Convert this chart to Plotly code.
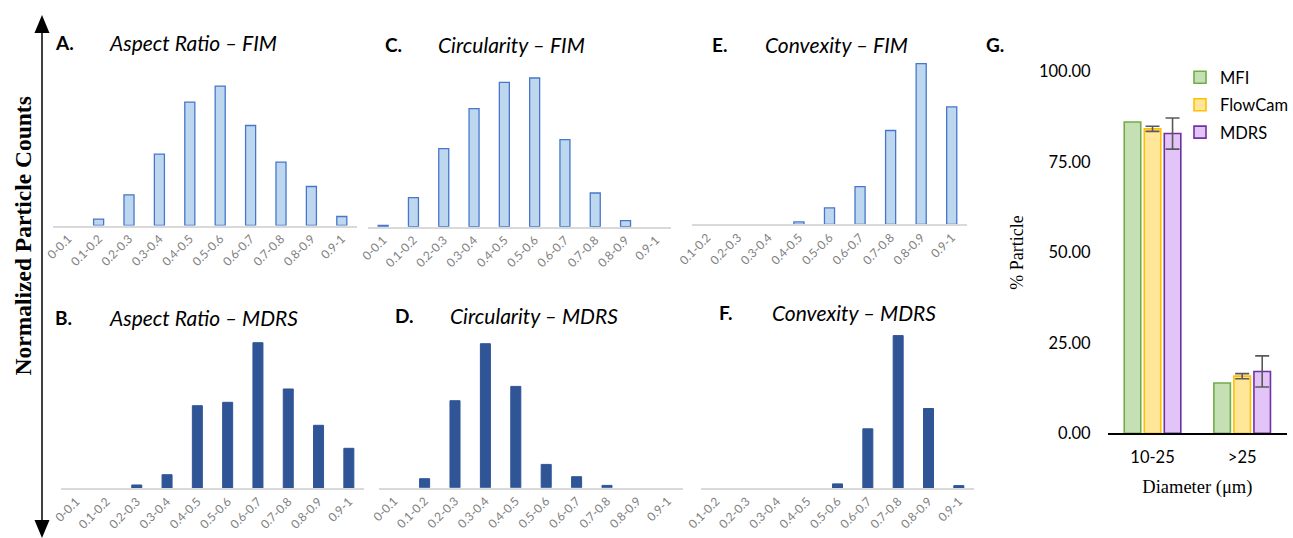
import plotly.graph_objects as go

W, H = 1293, 538

# ---------------- data ----------------
bins10 = ["0-0.1", "0.1-0.2", "0.2-0.3", "0.3-0.4", "0.4-0.5",
          "0.5-0.6", "0.6-0.7", "0.7-0.8", "0.8-0.9", "0.9-1"]
bins9 = ["0.1-0.2", "0.2-0.3", "0.3-0.4", "0.4-0.5",
         "0.5-0.6", "0.6-0.7", "0.7-0.8", "0.8-0.9", "0.9-1"]

# normalized particle counts (arbitrary units, common scale)
aspect_fim = [0, 6.4, 30.7, 71.4, 123.4, 139.4, 100.0, 63.4, 39.0, 9.0]
aspect_mdrs = [0, 0, 3.3, 13.6, 82.6, 86.0, 145.6, 99.3, 63.0, 40.0]
circ_fim = [1.3, 29.0, 78.0, 118.0, 144.3, 148.7, 87.0, 33.7, 6.0, 0]
circ_mdrs = [0, 9.0, 87.0, 144.0, 101.3, 23.3, 11.0, 2.3, 0, 0]
conv_fim = [0, 0, 0, 2.4, 16.4, 37.7, 93.8, 160.6, 117.5]
conv_mdrs = [0, 0, 0, 0, 4.1, 59.2, 152.4, 79.5, 2.4]

sizes = ["10-25", ">25"]
mfi = [86.1, 13.9]
flowcam = [84.2, 15.8]
flowcam_err = [0.7, 0.7]
mdrs = [82.9, 17.1]
mdrs_err = [4.3, 4.3]
g_ticks = [0, 25, 50, 75, 100]

# ---------------- styling helpers ----------------
def X(px):
    return px / W

def Y(py):
    return 1 - py / H

SANS = "Lato"
SERIF = "Liberation Serif"
LIGHT = ("#BDD7EE", "#4776CC", 1.3)
DARK = ("#2F5597", "#2F5597", 1.0)

panels = [
    # (letter, title, cats, values, style, x0, x1, baseline, letter_xy, title_x)
    ("A.", "Aspect Ratio – FIM", bins10, aspect_fim, LIGHT, 53, 357, 225.5, (53, 43), 107),
    ("B.", "Aspect Ratio – MDRS", bins10, aspect_mdrs, DARK, 61, 364, 488.3, (53, 317), 107),
    ("C.", "Circularity – FIM", bins10, circ_fim, LIGHT, 368, 671, 226.7, (383, 45), 436),
    ("D.", "Circularity – MDRS", bins10, circ_mdrs, DARK, 379, 683, 487.7, (393, 315), 448),
    ("E.", "Convexity – FIM", bins9, conv_fim, LIGHT, 692, 967, 224.3, (710, 44), 763),
    ("F.", "Convexity – MDRS", bins9, conv_mdrs, DARK, 701, 974, 488.0, (717, 312), 770),
]

PANEL_H = 170

fig = go.Figure()
layout = dict(
    width=W, height=H,
    margin=dict(l=0, r=0, t=0, b=0, autoexpand=False),
    paper_bgcolor="white", plot_bgcolor="rgba(0,0,0,0)",
    barmode="group", bargap=0.33, bargroupgap=0.175,
    showlegend=True,
    font=dict(family=SANS, color="#000"),
)
annotations = []

for i, (letter, title, cats, vals, st, x0, x1, base, lxy, tx) in enumerate(panels, start=1):
    sfx = "" if i == 1 else str(i)
    fill, edge, lw = st
    fig.add_trace(go.Bar(
        x=cats, y=vals, width=0.33,
        marker=dict(color=fill,
                    line=dict(color=edge, width=[lw if v > 0 else 0 for v in vals])),
        xaxis="x" + sfx, yaxis="y" + sfx, showlegend=False,
        name=title, hoverinfo="x+y",
    ))
    layout["xaxis" + sfx] = dict(
        domain=[X(x0), X(x1)], anchor="y" + sfx, type="category",
        showline=True, linecolor="#D9D9D9", linewidth=1.5,
        ticks="", tickangle=-45, showgrid=False, zeroline=False,
        ticklabelstandoff=0,
        tickfont=dict(family=SANS, size=12, color="#808080"),
        automargin=False, fixedrange=True,
    )
    layout["yaxis" + sfx] = dict(
        domain=[Y(base), Y(base - PANEL_H)], anchor="x" + sfx,
        range=[0, PANEL_H], visible=False, fixedrange=True, automargin=False,
    )
    annotations.append(dict(
        text="<b>%s</b>" % letter, xref="paper", yref="paper",
        x=X(lxy[0]), y=Y(lxy[1]), xanchor="left", yanchor="middle",
        showarrow=False, font=dict(family=SANS, size=19, color="#000"),
    ))
    annotations.append(dict(
        text="<i>%s</i>" % title, xref="paper", yref="paper",
        x=X(tx), y=Y(lxy[1]), xanchor="left", yanchor="middle",
        showarrow=False, font=dict(family=SANS, size=21, color="#000"),
    ))

# ---------------- panel G ----------------
g_series = [
    ("MFI", mfi, None, "#C5E0B4", "#70AD47"),
    ("FlowCam", flowcam, flowcam_err, "#FFE699", "#FFC000"),
    ("MDRS", mdrs, mdrs_err, "#E2C4F8", "#7030A0"),
]
for name, vals, err, fill, line in g_series:
    kw = {}
    if err is not None:
        kw["error_y"] = dict(type="data", array=err, visible=True,
                             color="#595959", thickness=1.6, width=7)
    fig.add_trace(go.Bar(
        x=sizes, y=vals, name=name, xaxis="x7", yaxis="y7",
        marker=dict(color=fill, line=dict(color=line, width=1.6)),
        legendgroup=name, **kw,
    ))

layout["xaxis7"] = dict(
    domain=[X(1107.7), X(1287)], anchor="y7", type="category",
    showline=True, linecolor="#000", linewidth=1.5, ticks="",
    showgrid=False, zeroline=False, ticklabelstandoff=8,
    tickfont=dict(family=SANS, size=16.5, color="#000"),
    title=dict(text="Diameter (μm)", standoff=14,
               font=dict(family=SERIF, size=18.5, color="#000")),
    automargin=False, fixedrange=True,
)
layout["yaxis7"] = dict(
    domain=[Y(433.3), Y(71.7)], anchor="x7", range=[0, 100],
    tickvals=g_ticks, tickformat=".2f", ticks="", showline=False,
    showgrid=False, zeroline=False, ticklabelstandoff=16,
    tickfont=dict(family=SANS, size=16.5, color="#000"),
    title=dict(text="% Particle", standoff=10,
               font=dict(family=SERIF, size=18, color="#000")),
    automargin=False, fixedrange=True,
)
layout["legend"] = dict(
    x=X(1180), y=Y(60), xanchor="left", yanchor="top",
    bgcolor="rgba(0,0,0,0)", tracegroupgap=3, itemwidth=30,
    font=dict(family=SANS, size=16.5, color="#000"),
)

annotations.append(dict(
    text="<b>G.</b>", xref="paper", yref="paper", x=X(984), y=Y(45),
    xanchor="left", yanchor="middle", showarrow=False,
    font=dict(family=SANS, size=19, color="#000"),
))

# ---------------- shared y label with double arrow ----------------
annotations.append(dict(
    text="<b>Normalized Particle Counts</b>", xref="paper", yref="paper",
    x=X(22), y=Y(236.5), xanchor="center", yanchor="middle", textangle=-90,
    showarrow=False, font=dict(family=SERIF, size=23.5, color="#000"),
))

ax = 42
shapes = [
    dict(type="line", xref="paper", yref="paper",
         x0=X(ax), x1=X(ax), y0=Y(30), y1=Y(522),
         line=dict(color="#000", width=1.5)),
    dict(type="path", xref="paper", yref="paper",
         path="M %f,%f L %f,%f L %f,%f Z" % (X(ax), Y(15), X(ax - 7.5), Y(33), X(ax + 7.5), Y(33)),
         fillcolor="#000", line=dict(color="#000", width=0)),
    dict(type="path", xref="paper", yref="paper",
         path="M %f,%f L %f,%f L %f,%f Z" % (X(ax), Y(538), X(ax - 7.5), Y(520), X(ax + 7.5), Y(520)),
         fillcolor="#000", line=dict(color="#000", width=0)),
]

layout["annotations"] = annotations
layout["shapes"] = shapes
fig.update_layout(**layout)
fig.write_html("out.html")
